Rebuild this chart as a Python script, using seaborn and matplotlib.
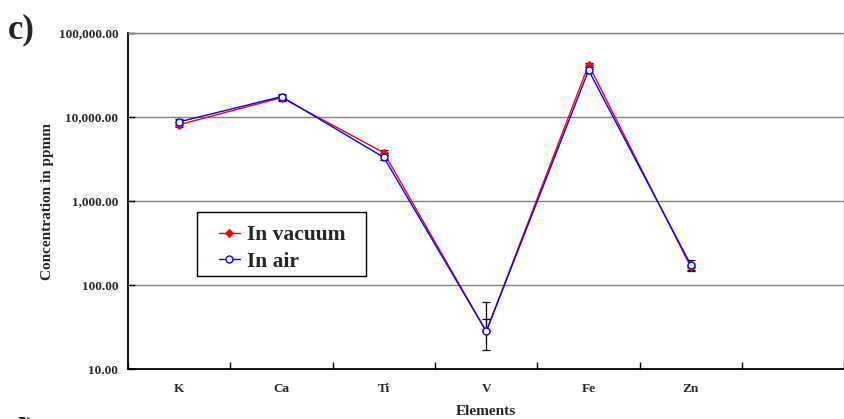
import numpy as np
import pandas as pd
import matplotlib
matplotlib.use("Agg")
import matplotlib.pyplot as plt
from matplotlib.ticker import FuncFormatter, FixedLocator, NullLocator
from matplotlib.patches import Rectangle
import seaborn as sns

# ---- data ----
elements = ["K", "Ca", "Ti", "V", "Fe", "Zn"]
vacuum = [8100, 17000, 3750, 28, 42000, 162]
vacuum_err = [600, 1500, 250, 11, 2500, 12]
air = [8750, 17500, 3300, 28, 36000, 172]
air_err = [800, 1500, 200, 34, 3000, 25]
series_labels = ["In vacuum", "In air"]
ytick_values = [10, 100, 1000, 10000, 100000]

sns.set_theme(style="white")
plt.rcParams["font.family"] = ["Liberation Serif", "DejaVu Serif"]
plt.rcParams["font.weight"] = "bold"

fig = plt.figure(figsize=(8.45, 4.19), dpi=100)
ax = fig.add_axes([128 / 845, 1 - 369 / 419, (844.5 - 128) / 845, 336 / 419])

def draw_err(vals, errs):
    vals = np.asarray(vals, float)
    errs = np.asarray(errs, float)
    lower = np.where(errs < vals, errs, 0.0)
    ax.errorbar(elements, vals, yerr=[lower, errs], fmt="none", ecolor="black",
                elinewidth=0.9, capsize=3, capthick=0.9, zorder=2)

draw_err(vacuum, vacuum_err)
draw_err(air, air_err)

sns.lineplot(x=elements, y=vacuum, sort=False, color="#FF0000", marker="D",
             markersize=4.5, markeredgecolor="#FF0000", linewidth=1.0,
             label=series_labels[0], ax=ax, zorder=3)
sns.lineplot(x=elements, y=air, sort=False, color="#0000FF", marker="o",
             markersize=5, markerfacecolor="white", markeredgecolor="#0000FF",
             markeredgewidth=1.0, linewidth=1.0, label=series_labels[1], ax=ax, zorder=4)

ax.set_yscale("log")
ax.set_ylim(10, 100000)
ax.set_xlim(-0.5, 6.5)
ax.yaxis.set_major_locator(FixedLocator(ytick_values))
ax.yaxis.set_minor_locator(NullLocator())
ax.yaxis.set_major_formatter(FuncFormatter(lambda v, p: f"{v:,.2f}"))
ax.grid(axis="y", which="major", color="#808080", linewidth=1.0)
ax.grid(axis="x", visible=False)
ax.set_axisbelow(True)

ax.xaxis.set_minor_locator(FixedLocator(np.arange(-0.5, 7.0, 1.0)))
ax.tick_params(axis="x", which="major", length=0, pad=10, labelsize=9.5)
ax.tick_params(axis="x", which="minor", direction="in", length=5, width=1, color="black", bottom=True)
ax.tick_params(axis="y", which="major", direction="in", length=5, width=1, color="black",
               left=True, labelsize=9.5, pad=7)
for lab in ax.get_xticklabels() + ax.get_yticklabels():
    lab.set_fontweight("bold")

for s in ["left", "bottom"]:
    ax.spines[s].set_color("black")
    ax.spines[s].set_linewidth(1.3)
for s in ["top", "right"]:
    ax.spines[s].set_color("#808080")
    ax.spines[s].set_linewidth(1.0)

ax.set_xlabel("Elements", fontsize=11, fontweight="bold", labelpad=7)
ax.set_ylabel("Concentration in ppmm", fontsize=11, fontweight="bold", labelpad=3)

# legend
leg = ax.legend(loc="upper left", bbox_to_anchor=((218.7 - 128) / 716.5, (369 - 225) / 336),
                frameon=False, prop={"family": "Liberation Serif", "weight": "bold", "size": 15.5},
                handlelength=1.0, handletextpad=0.3, labelspacing=0.3, borderpad=0.0,
                borderaxespad=0.0)
ax.add_patch(Rectangle(((197 - 128) / 716.5, (369 - 276) / 336), 169 / 716.5, 64 / 336,
                       transform=ax.transAxes, fill=True, facecolor="white",
                       edgecolor="black", linewidth=1.0, zorder=5))
leg.set_zorder(6)

fig.text(8 / 845, 1 - 38 / 419, "c)", fontsize=25, fontweight="bold", va="baseline", ha="left")
fig.text(8 / 845, 1 - 416 / 419, "d)", fontsize=25, fontweight="bold", va="top", ha="left")

fig.savefig("out.png", dpi=100)
